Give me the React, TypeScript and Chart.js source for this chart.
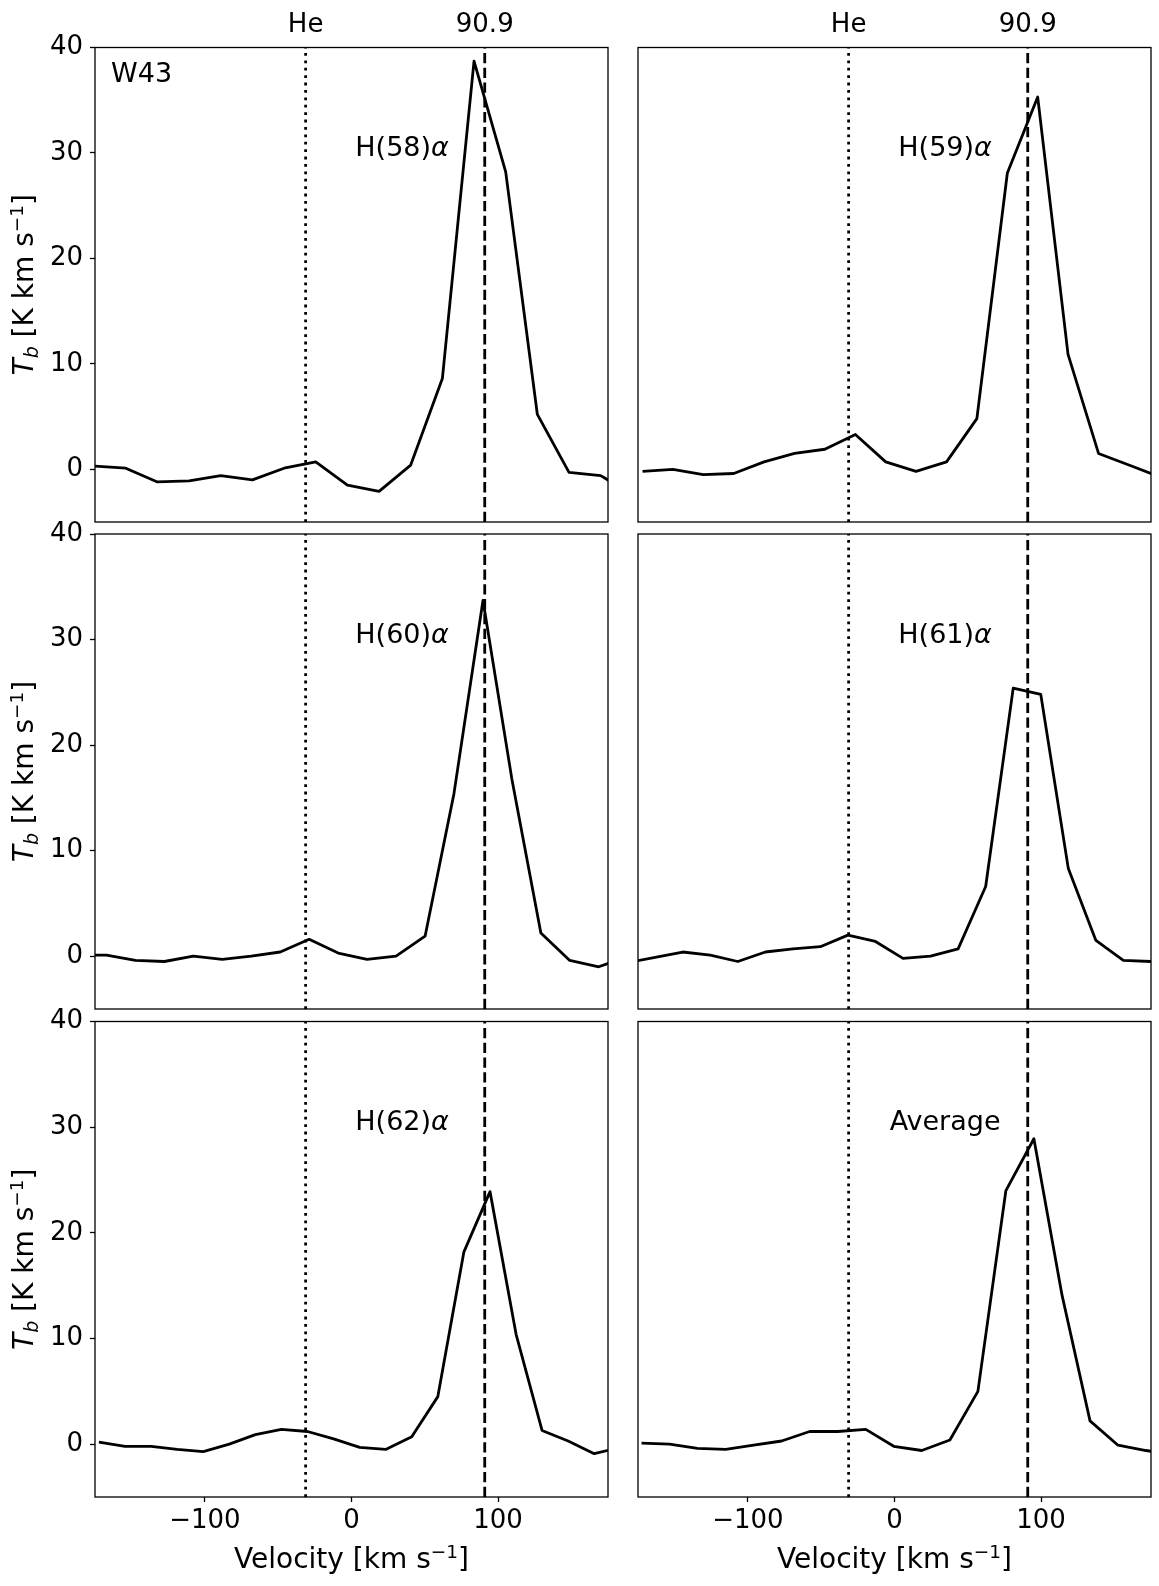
import React, { useEffect, useRef } from 'react';
import { Chart, registerables } from 'chart.js';

Chart.register(...registerables);

const PAGE_W = 1159;
const PAGE_H = 1586;
const FONT = '"DejaVu Sans", "Liberation Sans", sans-serif';

// line positions and axis limits
const HE_VELOCITY = -31.3;
const H_VELOCITY = 90.9;
const X_MIN = -175;
const X_MAX = 175;
const Y_MIN = -5;
const Y_MAX = 40;
const X_TICKS = [-100, 0, 100];
const Y_TICKS = [0, 10, 20, 30, 40];

// spectra
const velH58 = [-175.6, -154.0, -132.4, -110.8, -89.2, -67.6, -46.0, -24.4, -2.8, 18.8, 40.4, 62.0, 83.6, 105.2, 126.8, 148.4, 170.0, 191.6];
const tbH58 = [0.3, 0.1, -1.2, -1.1, -0.6, -1.0, 0.1, 0.7, -1.5, -2.1, 0.4, 8.6, 38.7, 28.2, 5.2, -0.3, -0.6, -2.4];

const velH59 = [-171.9, -151.2, -130.5, -109.7, -89.0, -68.2, -47.5, -26.7, -6.0, 14.7, 35.5, 56.2, 77.0, 97.7, 118.4, 139.2, 159.9, 180.6];
const tbH59 = [-0.2, 0.0, -0.5, -0.4, 0.7, 1.5, 1.9, 3.3, 0.7, -0.2, 0.7, 4.8, 28.1, 35.3, 10.9, 1.5, 0.4, -0.7];

const velH60 = [-187.0, -167.2, -147.4, -127.7, -107.9, -88.2, -68.4, -48.6, -28.9, -9.1, 10.6, 30.4, 50.2, 69.9, 89.7, 109.4, 129.2, 148.9, 168.7, 188.5];
const tbH60 = [0.1, 0.1, -0.4, -0.5, 0.0, -0.3, 0.0, 0.4, 1.6, 0.3, -0.3, 0.0, 1.9, 15.4, 33.7, 16.8, 2.2, -0.4, -1.0, 0.0];

const velH61 = [-182.1, -163.3, -144.5, -125.7, -106.9, -88.1, -69.3, -50.6, -31.8, -13.0, 5.8, 24.6, 43.4, 62.2, 81.0, 99.8, 118.6, 137.4, 156.1, 174.9, 193.7];
const tbH61 = [-0.6, -0.1, 0.4, 0.1, -0.5, 0.4, 0.7, 0.9, 2.0, 1.4, -0.2, 0.0, 0.7, 6.6, 25.4, 24.8, 8.3, 1.5, -0.4, -0.5, -0.5];

const velH62 = [-172.3, -154.5, -136.7, -118.9, -101.1, -83.4, -65.6, -47.8, -30.0, -12.2, 5.6, 23.3, 41.1, 58.9, 76.7, 94.5, 112.3, 130.0, 147.8, 165.6, 183.4];
const tbH62 = [0.2, -0.2, -0.2, -0.5, -0.7, 0.0, 0.9, 1.4, 1.2, 0.5, -0.3, -0.5, 0.7, 4.5, 18.2, 23.9, 10.4, 1.3, 0.3, -0.9, -0.3];

const velAvg = [-172.6, -153.5, -134.4, -115.2, -96.1, -77.0, -57.9, -38.7, -19.6, -0.5, 18.6, 37.8, 56.9, 76.0, 95.1, 114.3, 133.4, 152.5, 171.6, 190.8];
const tbAvg = [0.1, 0.0, -0.4, -0.5, -0.1, 0.3, 1.2, 1.2, 1.4, -0.2, -0.6, 0.4, 5.0, 24.0, 28.9, 14.1, 2.2, -0.1, -0.6, -1.0];

// panel frames on the page (px)
const COL_LEFT = [95, 638];
const COL_RIGHT = [608, 1151];
const ROW_TOP = [47.5, 534, 1021.5];
const ROW_BOTTOM = [522, 1009, 1497];
const Y_AXIS_W = 90;
const X_AXIS_H = 60;

type PanelDef = { name: string; italicAlpha: boolean; vel: number[]; tb: number[]; row: number; col: number };

const PANELS: PanelDef[] = [
  { name: 'H(58)', italicAlpha: true, vel: velH58, tb: tbH58, row: 0, col: 0 },
  { name: 'H(59)', italicAlpha: true, vel: velH59, tb: tbH59, row: 0, col: 1 },
  { name: 'H(60)', italicAlpha: true, vel: velH60, tb: tbH60, row: 1, col: 0 },
  { name: 'H(61)', italicAlpha: true, vel: velH61, tb: tbH61, row: 1, col: 1 },
  { name: 'H(62)', italicAlpha: true, vel: velH62, tb: tbH62, row: 2, col: 0 },
  { name: 'Average', italicAlpha: false, vel: velAvg, tb: tbAvg, row: 2, col: 1 },
];

type Part = { text: string; font: string; dy?: number };

// draw a run of text pieces (for super/subscripts and italic letters)
const drawParts = (ctx: CanvasRenderingContext2D, parts: Part[], x: number, y: number, align: 'left' | 'center') => {
  let total = 0;
  parts.forEach((p) => {
    ctx.font = p.font;
    total += ctx.measureText(p.text).width;
  });
  let cx = align === 'center' ? x - total / 2 : x;
  ctx.textAlign = 'left';
  ctx.textBaseline = 'alphabetic';
  parts.forEach((p) => {
    ctx.font = p.font;
    ctx.fillText(p.text, cx, y + (p.dy || 0));
    cx += ctx.measureText(p.text).width;
  });
};

const Panel: React.FC<{ panel: PanelDef }> = ({ panel }) => {
  const chartRef = useRef<HTMLCanvasElement | null>(null);

  useEffect(() => {
    if (!chartRef.current) return;
    const ctx = chartRef.current.getContext('2d');
    if (!ctx) return;

    const { row, col } = panel;
    const showY = col === 0;
    const showX = row === 2;

    const decorations = {
      id: 'decorations',
      afterDraw(chart: any) {
        const c = chart.ctx as CanvasRenderingContext2D;
        const area = chart.chartArea;
        const xs = chart.scales.x;
        const ys = chart.scales.y;
        c.save();
        c.fillStyle = '#000';
        c.strokeStyle = '#000';
        c.lineWidth = 1.3;
        c.strokeRect(area.left, area.top, area.right - area.left, area.bottom - area.top);

        // line name
        const nameParts: Part[] = [{ text: panel.name, font: `27px ${FONT}` }];
        if (panel.italicAlpha) nameParts.push({ text: 'α', font: `italic 27px ${FONT}` });
        drawParts(c, nameParts, xs.getPixelForValue(34.5), ys.getPixelForValue(29.7), 'center');

        if (row === 0) {
          c.font = `26px ${FONT}`;
          c.textAlign = 'center';
          c.textBaseline = 'alphabetic';
          c.fillText('He', xs.getPixelForValue(HE_VELOCITY), area.top - 16);
          c.fillText('90.9', xs.getPixelForValue(H_VELOCITY), area.top - 16);
        }
        if (row === 0 && col === 0) {
          drawParts(c, [{ text: 'W43', font: `27px ${FONT}` }], area.left + 16, area.top + 34, 'left');
        }
        if (showY) {
          c.save();
          c.translate(32.5, (area.top + area.bottom) / 2);
          c.rotate(-Math.PI / 2);
          drawParts(
            c,
            [
              { text: 'T', font: `italic 28px ${FONT}` },
              { text: 'b', font: `italic 19px ${FONT}`, dy: 5 },
              { text: ' [K km s', font: `28px ${FONT}` },
              { text: '−1', font: `18.5px ${FONT}`, dy: -10 },
              { text: ']', font: `28px ${FONT}` },
            ],
            0,
            0,
            'center',
          );
          c.restore();
        }
        if (showX) {
          drawParts(
            c,
            [
              { text: 'Velocity [km s', font: `28px ${FONT}` },
              { text: '−1', font: `18.5px ${FONT}`, dy: -10 },
              { text: ']', font: `28px ${FONT}` },
            ],
            (area.left + area.right) / 2,
            1568,
            'center',
          );
        }
        c.restore();
      },
    };

    const tickGrid = {
      display: true,
      drawOnChartArea: false,
      drawTicks: true,
      tickLength: 5,
      tickWidth: 1.3,
      tickColor: '#000',
    };

    const chart = new Chart(ctx, {
      type: 'line',
      data: {
        datasets: [
          {
            data: panel.vel.map((v, i) => ({ x: v, y: panel.tb[i] })),
            borderColor: '#000',
            borderWidth: 2.8,
            borderJoinStyle: 'round',
            pointRadius: 0,
            tension: 0,
          },
          {
            data: [
              { x: HE_VELOCITY, y: Y_MIN },
              { x: HE_VELOCITY, y: Y_MAX },
            ],
            borderColor: '#000',
            borderWidth: 2.8,
            borderDash: [2.8, 4.6],
            pointRadius: 0,
          },
          {
            data: [
              { x: H_VELOCITY, y: Y_MIN },
              { x: H_VELOCITY, y: Y_MAX },
            ],
            borderColor: '#000',
            borderWidth: 2.8,
            borderDash: [10.3, 4.5],
            pointRadius: 0,
          },
        ],
      },
      options: {
        responsive: false,
        animation: false,
        events: [],
        layout: {
          padding: {
            left: COL_LEFT[col] - (showY ? Y_AXIS_W : 0),
            right: PAGE_W - COL_RIGHT[col],
            top: ROW_TOP[row],
            bottom: PAGE_H - ROW_BOTTOM[row] - (showX ? X_AXIS_H : 0),
          },
        },
        plugins: {
          legend: { display: false },
          tooltip: { enabled: false },
        },
        scales: {
          x: {
            type: 'linear',
            min: X_MIN,
            max: X_MAX,
            display: showX,
            grid: tickGrid,
            border: { display: false },
            afterBuildTicks: (scale: any) => {
              scale.ticks = X_TICKS.map((value) => ({ value }));
            },
            afterFit: (scale: any) => {
              scale.height = showX ? X_AXIS_H : 0;
            },
            ticks: {
              autoSkip: false,
              maxRotation: 0,
              padding: 3.5,
              color: '#000',
              font: { family: FONT, size: 26 },
              callback: (v: any) => String(v).replace('-', '−'),
            },
          },
          y: {
            type: 'linear',
            min: Y_MIN,
            max: Y_MAX,
            display: showY,
            grid: tickGrid,
            border: { display: false },
            afterBuildTicks: (scale: any) => {
              scale.ticks = Y_TICKS.map((value) => ({ value }));
            },
            afterFit: (scale: any) => {
              scale.width = showY ? Y_AXIS_W : 0;
            },
            ticks: {
              autoSkip: false,
              padding: 7,
              color: '#000',
              font: { family: FONT, size: 26 },
              callback: (v: any) => String(v).replace('-', '−'),
            },
          },
        },
      },
      plugins: [decorations],
    } as any);

    return () => {
      chart.destroy();
    };
  }, [panel]);

  return (
    <canvas
      ref={chartRef}
      width={PAGE_W}
      height={PAGE_H}
      style={{ position: 'absolute', left: 0, top: 0, width: PAGE_W, height: PAGE_H }}
    />
  );
};

const App: React.FC = () => (
  <div style={{ position: 'absolute', left: 0, top: 0, width: PAGE_W, height: PAGE_H, background: '#fff' }}>
    {PANELS.map((p) => (
      <Panel key={p.name} panel={p} />
    ))}
  </div>
);

export default App;
